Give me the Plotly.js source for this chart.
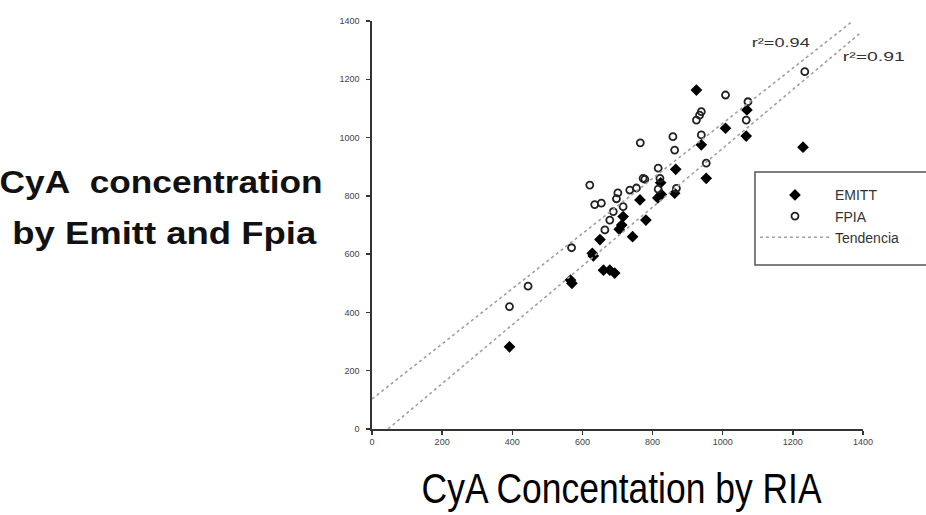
<!DOCTYPE html>
<html>
<head>
<meta charset="utf-8">
<script src="https://cdn.plot.ly/plotly-3.0.1.min.js"></script>
<style>html,body{margin:0;padding:0;background:#fff;}#chart{width:926px;height:515px;}</style>
</head>
<body>
<div id="chart"></div>
<script>
// EMITT (filled markers)
const emittX = [392, 566, 570, 628, 631, 660, 678, 692, 650, 705, 712, 716, 743, 781, 764, 815, 825, 863, 866, 823, 939, 953, 925, 1008, 1069, 1067, 1229];
const emittY = [282, 511, 500, 603, 594, 545, 545, 535, 650, 685, 700, 729, 660, 717, 786, 793, 805, 809, 891, 845, 975, 860, 1163, 1032, 1095, 1005, 967];
// FPIA (open markers)
const fpiaX = [392, 445, 569, 621, 635, 654, 664, 678, 688, 701, 697, 735, 754, 778, 765, 773, 816, 821, 816, 868, 858, 863, 925, 934, 939, 953, 1008, 1072, 1067, 1234, 939, 716];
const fpiaY = [420, 490, 622, 837, 770, 775, 683, 717, 746, 810, 790, 820, 827, 857, 982, 860, 895, 860, 823, 826, 1003, 957, 1060, 1077, 1009, 912, 1146, 1123, 1060, 1226, 1089, 763];
// Trend lines (slope, intercept, x span)
const trendFpia = {slope: 0.946, intercept: 103, xs: [0, 1368]};
const trendEmitt = {slope: 1.009, intercept: -46, xs: [46, 1396]};
const r2Labels = ['r\u00b2=0.94', 'r\u00b2=0.91'];
const tickVals = [0, 200, 400, 600, 800, 1000, 1200, 1400];
const tickText = ['0', '200', '400', '600', '800', '1000', '1200', '1400'];

const lineStyle = {color: '#a0a0a0', width: 1.6, dash: 'dot'};
const traces = [
  {x: emittX, y: emittY, type: 'scatter', mode: 'markers', name: 'EMITT',
   marker: {symbol: 'diamond', size: 9, color: '#000'}},
  {x: fpiaX, y: fpiaY, type: 'scatter', mode: 'markers', name: 'FPIA',
   marker: {symbol: 'circle-open', size: 7, color: '#222', line: {width: 1.8, color: '#222'}}},
  {x: trendFpia.xs, y: trendFpia.xs.map(v => trendFpia.slope * v + trendFpia.intercept),
   type: 'scatter', mode: 'lines', name: 'Tendencia', line: lineStyle},
  {x: trendEmitt.xs, y: trendEmitt.xs.map(v => trendEmitt.slope * v + trendEmitt.intercept),
   type: 'scatter', mode: 'lines', name: 'Tendencia', showlegend: false, line: lineStyle}
];

const axisCommon = {
  range: [0, 1400], tickvals: tickVals, ticktext: tickText,
  showgrid: false, zeroline: false, showline: true, linecolor: '#333', linewidth: 1.6,
  ticks: 'outside', ticklen: 4, tickwidth: 1.5, tickcolor: '#333',
  tickfont: {family: 'Arial, Liberation Sans, sans-serif', size: 9, color: '#444'}
};

const layout = {
  width: 926, height: 515,
  margin: {l: 372, r: 63, t: 21, b: 86},
  paper_bgcolor: '#fff', plot_bgcolor: '#fff',
  xaxis: Object.assign({}, axisCommon),
  yaxis: Object.assign({}, axisCommon, {ticklabelstandoff: 5}),
  showlegend: true,
  legend: {x: 0.78, y: 0.612, xanchor: 'left', yanchor: 'top',
    bgcolor: 'rgba(0,0,0,0)', borderwidth: 0,
    itemwidth: 70,
    font: {family: 'Arial, Liberation Sans, sans-serif', size: 14, color: '#333'}},
  shapes: [
    {type: 'rect', xref: 'paper', yref: 'paper', x0: 0.780, x1: 1.14, y0: 0.402, y1: 0.630,
     layer: 'above', fillcolor: '#fff', line: {color: '#555', width: 1.5}}
  ],
  annotations: [
    {xref: 'paper', yref: 'paper', x: -0.43, y: 0.603, xanchor: 'center', yanchor: 'middle',
     text: 'CyA\u00a0 concentration', showarrow: false,
     font: {family: 'Liberation Sans, Arial', size: 31, color: '#111', weight: 'bold'}},
    {xref: 'paper', yref: 'paper', x: -0.422, y: 0.48, xanchor: 'center', yanchor: 'middle',
     text: 'by Emitt and Fpia', showarrow: false,
     font: {family: 'Liberation Sans, Arial', size: 31, color: '#111', weight: 'bold'}},
    {xref: 'paper', yref: 'paper', x: 0.509, y: -0.145, xanchor: 'center', yanchor: 'middle',
     text: 'CyA Concentation by RIA', showarrow: false,
     font: {family: 'Liberation Sans, Arial', size: 43, color: '#000'}},
    {xref: 'paper', yref: 'paper', x: 0.833, y: 0.947, xanchor: 'center', yanchor: 'middle',
     text: r2Labels[0], showarrow: false,
     font: {family: 'Arial, Liberation Sans, sans-serif', size: 13, color: '#333'}},
    {xref: 'paper', yref: 'paper', x: 1.022, y: 0.912, xanchor: 'center', yanchor: 'middle',
     text: r2Labels[1], showarrow: false,
     font: {family: 'Arial, Liberation Sans, sans-serif', size: 13, color: '#333'}}
  ]
};

// target rendered widths (px) for texts, to mimic the stretched/condensed fonts
const textWidths = {};
textWidths['CyA\u00a0 concentration'] = 323;
textWidths['by Emitt and Fpia'] = 304;
textWidths['CyA Concentation by RIA'] = 400;
textWidths[r2Labels[0]] = 58;
textWidths[r2Labels[1]] = 62;

Plotly.newPlot('chart', traces, layout, {displayModeBar: false, staticPlot: true}).then(gd => {
  gd.querySelectorAll('.annotation-text').forEach(t => {
    const w = textWidths[t.textContent];
    if (w) {
      t.setAttribute('textLength', w);
      t.setAttribute('lengthAdjust', 'spacingAndGlyphs');
    }
  });
});
</script>
</body>
</html>
